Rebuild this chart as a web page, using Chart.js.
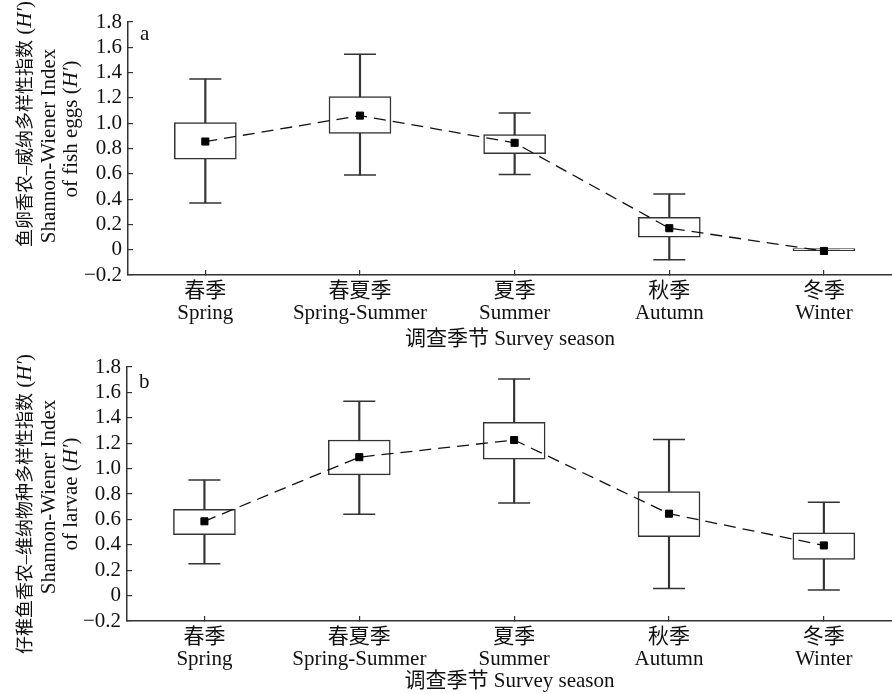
<!DOCTYPE html>
<html>
<head>
<meta charset="utf-8">
<script src="https://cdn.jsdelivr.net/npm/chart.js@4.4.0/dist/chart.umd.min.js"></script>
<style>
  html, body { margin: 0; background: #fff; overflow: hidden; }
  canvas { display: block; }
</style>
</head>
<body>
<canvas id="eggs" width="892" height="352"></canvas>
<canvas id="larvae" width="892" height="342"></canvas>
<script>
const seasons = [['春季', 'Spring'], ['春夏季', 'Spring-Summer'], ['夏季', 'Summer'], ['秋季', 'Autumn'], ['冬季', 'Winter']];

// fish eggs: whisker ends, box edges and mean per season
const eggsMin = [0.37, 0.59, 0.595, -0.08, 0];
const eggsQ1 = [0.715, 0.92, 0.76, 0.10, 0];
const eggsQ3 = [1.005, 1.21, 0.91, 0.255, 0];
const eggsMax = [1.35, 1.545, 1.08, 0.44, 0];
const eggsMean = [0.855, 1.06, 0.845, 0.17, -0.01];

// larvae
const larvaeMin = [0.25, 0.64, 0.73, 0.055, 0.045];
const larvaeQ1 = [0.48, 0.95, 1.075, 0.465, 0.285];
const larvaeQ3 = [0.68, 1.225, 1.365, 0.82, 0.495];
const larvaeMax = [0.91, 1.53, 1.705, 1.23, 0.735];
const larvaeMean = [0.585, 1.09, 1.225, 0.645, 0.395];

const serif = "'Liberation Serif', 'Noto Sans CJK SC', serif";
const ink = '#111';
const stroke = '#333';

// rotated y title lines (some parts italic) plus the panel letter
const panelText = {
  id: 'panelText',
  afterDraw(chart, args, opts) {
    const ctx = chart.ctx;
    const fontOf = p => (p.i ? 'italic ' : '') + (p.size || 21) + 'px ' + serif;
    ctx.save();
    ctx.fillStyle = ink;
    ctx.textBaseline = 'alphabetic';
    ctx.textAlign = 'left';
    ctx.font = '21px ' + serif;
    ctx.fillText(opts.letter, chart.chartArea.left + 12, opts.letterY);
    opts.lines.forEach(line => {
      let w = 0;
      line.parts.forEach(p => { ctx.font = fontOf(p); w += ctx.measureText(p.t).width; });
      ctx.save();
      ctx.translate(line.x, line.cy);
      ctx.rotate(-Math.PI / 2);
      let x = -w / 2;
      line.parts.forEach(p => {
        ctx.font = fontOf(p);
        ctx.fillText(p.t, x, 0);
        x += ctx.measureText(p.t).width;
      });
      ctx.restore();
    });
    ctx.restore();
  }
};

function boxPanel(id, d, layout) {
  const pts = arr => arr.map((v, i) => ({ x: i, y: v }));
  const ranges = (lo, hi) => lo.map((v, i) => ({ x: i, y: [v, hi[i]] }));
  const font = { family: serif, size: 21, lineHeight: 1.05 };

  return new Chart(document.getElementById(id), {
    type: 'bar',
    data: {
      datasets: [
        {
          type: 'line', data: pts(d.mean), order: 1,
          borderColor: ink, borderWidth: 1.3, borderDash: [12, 7], tension: 0,
          pointStyle: 'rect', pointRadius: 5,
          pointBackgroundColor: '#000', pointBorderColor: '#000', pointBorderWidth: 1
        },
        {
          data: ranges(d.q1, d.q3), order: 2, grouped: false,
          barThickness: 62, minBarLength: 2,
          backgroundColor: '#fff', borderColor: stroke, borderWidth: 1.5, borderSkipped: false
        },
        {
          type: 'line', data: pts(d.min), order: 3, showLine: false,
          pointStyle: 'line', pointRadius: 16, pointBorderColor: stroke, pointBorderWidth: 1.5
        },
        {
          type: 'line', data: pts(d.max), order: 3, showLine: false,
          pointStyle: 'line', pointRadius: 16, pointBorderColor: stroke, pointBorderWidth: 1.5
        },
        {
          data: ranges(d.min, d.max), order: 4, grouped: false,
          barThickness: 1.5, backgroundColor: stroke
        }
      ]
    },
    options: {
      responsive: false,
      animation: false,
      events: [],
      layout: { autoPadding: false, padding: { top: layout.top, left: 0, right: 0, bottom: 0 } },
      plugins: {
        legend: { display: false },
        tooltip: { enabled: false },
        panelText: layout.text
      },
      scales: {
        x: {
          type: 'linear', min: -0.5, max: 4.44, offset: false,
          afterBuildTicks: s => { s.ticks = seasons.map((_, i) => ({ value: i })); },
          afterFit: s => {
            s.height = layout.xHeight;
            s.paddingLeft = 0;
            s.paddingRight = 0;
          },
          grid: { offset: false, drawOnChartArea: false, tickLength: -5, color: stroke, lineWidth: 1.2 },
          border: { color: stroke, width: 1.5 },
          ticks: { callback: v => seasons[v], padding: 10, font, color: ink, maxRotation: 0, autoSkip: false },
          title: {
            display: true, text: '调查季节 Survey season', color: ink, padding: 0,
            font: { family: serif, size: 21, lineHeight: 1.2 }
          }
        },
        y: {
          min: -0.2, max: 1.8,
          afterFit: s => {
            s.width = layout.yWidth;
            s.paddingTop = 0;
            s.paddingBottom = 0;
          },
          grid: { drawOnChartArea: false, tickLength: -5, color: stroke, lineWidth: 1.2 },
          border: { color: stroke, width: 1.5 },
          ticks: {
            stepSize: 0.2, padding: 11, font, color: ink, autoSkip: false,
            callback: v => Math.abs(v) < 1e-9 ? '0' : (v < 0 ? '−' : '') + Math.abs(v).toFixed(1)
          }
        }
      }
    },
    plugins: [panelText]
  });
}

boxPanel('eggs',
  { min: eggsMin, q1: eggsQ1, q3: eggsQ3, max: eggsMax, mean: eggsMean },
  {
    top: 22, xHeight: 77, yWidth: 128,
    text: {
      letter: 'a', letterY: 40,
      lines: [
        { x: 31, cy: 124, parts: [{ t: '鱼卵香农–威纳多样性指数', size: 18 }, { t: ' (' }, { t: 'H′', i: true }, { t: ')' }] },
        { x: 55, cy: 146, parts: [{ t: 'Shannon-Wiener Index' }] },
        { x: 77, cy: 129, parts: [{ t: 'of fish eggs (' }, { t: 'H′', i: true }, { t: ')' }] }
      ]
    }
  });

boxPanel('larvae',
  { min: larvaeMin, q1: larvaeQ1, q3: larvaeQ3, max: larvaeMax, mean: larvaeMean },
  {
    top: 15, xHeight: 73, yWidth: 127,
    text: {
      letter: 'b', letterY: 36,
      lines: [
        { x: 31, cy: 152, parts: [{ t: '仔稚鱼香农–维纳物种多样性指数', size: 18 }, { t: ' (' }, { t: 'H′', i: true }, { t: ')' }] },
        { x: 55, cy: 145, parts: [{ t: 'Shannon-Wiener Index' }] },
        { x: 77, cy: 142, parts: [{ t: 'of larvae (' }, { t: 'H′', i: true }, { t: ')' }] }
      ]
    }
  });
</script>
</body>
</html>
